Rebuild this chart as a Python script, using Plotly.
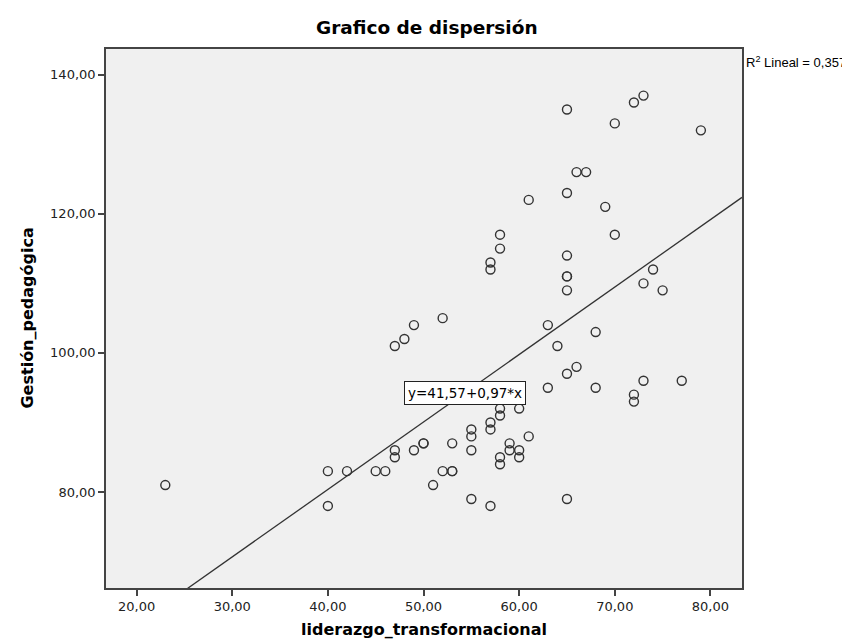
import plotly.graph_objects as go

# Data
liderazgo = [23, 40, 40, 42, 45, 46, 47, 47, 47, 48, 49, 49, 50, 50, 51, 52, 52,
             53, 53, 53, 55, 55, 55, 55, 57, 57, 57, 57, 57, 58, 58, 58, 58, 58, 58,
             59, 59, 60, 60, 60, 61, 61, 63, 63, 64, 65, 65, 65, 65, 65, 65, 65, 65,
             66, 66, 67, 68, 68, 69, 70, 70, 72, 72, 72, 73, 73, 73, 74, 75, 77, 79]
gestion = [81, 83, 78, 83, 83, 83, 101, 86, 85, 102, 104, 86, 87, 87, 81, 105, 83,
           87, 83, 83, 89, 88, 86, 79, 113, 112, 90, 89, 78, 117, 115, 92, 91, 85, 84,
           87, 86, 92, 86, 85, 122, 88, 104, 95, 101, 135, 123, 114, 111, 111, 109, 97, 79,
           126, 98, 126, 103, 95, 121, 133, 117, 136, 94, 93, 137, 110, 96, 112, 109, 96, 132]

INTERCEPT = 41.57
SLOPE = 0.97
R2 = "0,357"
EQUATION = "y=41,57+0,97*x"

x_ticks = [20, 30, 40, 50, 60, 70, 80]
x_ticklabels = ["20,00", "30,00", "40,00", "50,00", "60,00", "70,00", "80,00"]
y_ticks = [80, 100, 120, 140]
y_ticklabels = ["80,00", "100,00", "120,00", "140,00"]

X_RANGE = [16.8, 83.3]
Y_RANGE = [66.2, 143.7]

FONT = "DejaVu Sans, Verdana, sans-serif"
NARROW = "Liberation Sans, Arial, sans-serif"
AXC = "#444444"
MARK = "#333333"

fig = go.Figure()

line_x = X_RANGE
line_y = [INTERCEPT + SLOPE * v for v in line_x]
fig.add_trace(go.Scatter(x=line_x, y=line_y, mode="lines",
                         line=dict(color=MARK, width=1.3),
                         hoverinfo="skip", showlegend=False))

fig.add_trace(go.Scatter(x=liderazgo, y=gestion, mode="markers",
                         marker=dict(symbol="circle-open", size=9, color=MARK,
                                     line=dict(color=MARK, width=1.4)),
                         showlegend=False, cliponaxis=False))

fig.update_layout(
    width=850, height=639,
    margin=dict(l=98, r=116, t=41, b=59),
    paper_bgcolor="white",
    plot_bgcolor="#f0f0f0",
    font=dict(family=FONT, size=13, color="#222222"),
    showlegend=False,
)

fig.update_xaxes(range=X_RANGE, tickvals=x_ticks, ticktext=x_ticklabels,
                 showgrid=False, zeroline=False, showline=True, mirror=True,
                 linecolor=AXC, linewidth=1.6, ticks="outside", ticklen=6,
                 tickwidth=1.6, tickcolor=AXC, tickfont=dict(size=13, color="#222222"))
fig.update_yaxes(range=Y_RANGE, tickvals=y_ticks, ticktext=y_ticklabels,
                 showgrid=False, zeroline=False, showline=True, mirror=True,
                 linecolor=AXC, linewidth=1.6, ticks="outside", ticklen=6,
                 tickwidth=1.6, tickcolor=AXC, tickfont=dict(size=13, color="#222222"))

annotations = [
    dict(text="<b>Grafico de dispersión</b>", xref="paper", yref="paper",
         x=0.505, y=1.0396, xanchor="center", yanchor="middle", showarrow=False,
         font=dict(size=18.5, color="#000000", family=FONT)),
    dict(text="<b>liderazgo_transformacional</b>", xref="paper", yref="paper",
         x=0.5, y=-0.0765, xanchor="center", yanchor="middle", showarrow=False,
         font=dict(size=16, color="#000000", family=FONT)),
    dict(text="<b>Gestión_pedagógica</b>", xref="paper", yref="paper",
         x=-0.1242, y=0.5, xanchor="center", yanchor="middle", showarrow=False,
         textangle=-90, font=dict(size=16, color="#000000", family=FONT)),
    dict(text="R<sup>2</sup> Lineal = " + R2, xref="paper", yref="paper",
         x=1.003, y=0.976, xanchor="left", yanchor="middle", showarrow=False,
         font=dict(size=13, color="#000000", family=NARROW)),
    dict(text=EQUATION, xref="x", yref="y", x=54.37, y=94.2,
         xanchor="center", yanchor="middle", showarrow=False,
         bgcolor="white", bordercolor="#222222", borderwidth=1, borderpad=3,
         font=dict(size=13.5, color="#000000", family=FONT)),
]
fig.update_layout(annotations=annotations)

fig.write_html("out.html")
